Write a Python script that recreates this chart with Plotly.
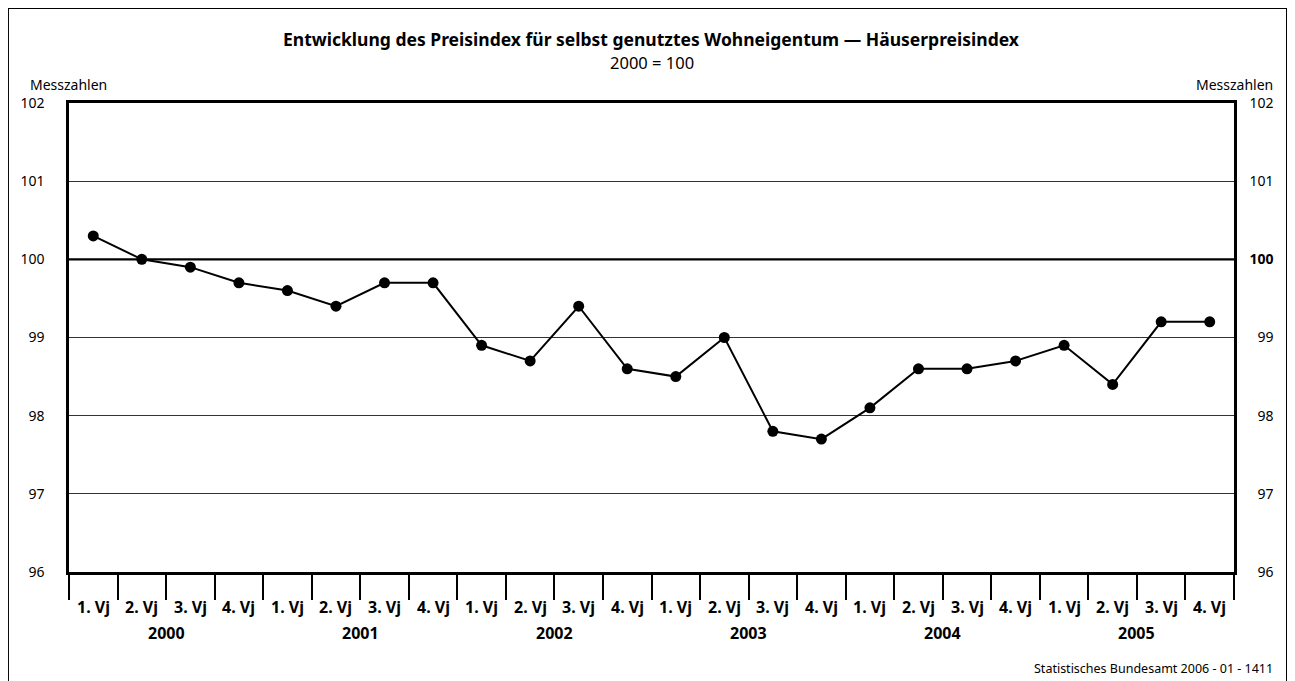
import plotly.graph_objects as go

# Daten: Häuserpreisindex, 2000 = 100
years = ["2000", "2001", "2002", "2003", "2004", "2005"]
quarters = ["1. Vj", "2. Vj", "3. Vj", "4. Vj"]
index_values = [100.3, 100.0, 99.9, 99.7,
                99.6, 99.4, 99.7, 99.7,
                98.9, 98.7, 99.4, 98.6,
                98.5, 99.0, 97.8, 97.7,
                98.1, 98.6, 98.6, 98.7,
                98.9, 98.4, 99.2, 99.2]
y_ticks = [96, 97, 98, 99, 100, 101, 102]

FONT = "Noto Sans"
x_pos = list(range(len(index_values)))
n = len(index_values)

fig = go.Figure()

fig.add_trace(go.Scatter(
    x=x_pos,
    y=index_values,
    mode="lines+markers",
    line=dict(color="black", width=2),
    marker=dict(size=11, color="black"),
    showlegend=False,
    hoverinfo="y",
))

# unsichtbare Spur für die rechte Achse
fig.add_trace(go.Scatter(x=[x_pos[0]], y=[index_values[0]], yaxis="y2",
                         mode="markers", marker=dict(opacity=0),
                         showlegend=False, hoverinfo="skip"))

year_bounds = [i * 4 - 0.5 for i in range(len(years) + 1)]
quarter_bounds = [i - 0.5 for i in range(n + 1)]

right_text = []
for v in y_ticks:
    if v == 100:
        right_text.append("<b>100</b>")
    elif v < 100:
        right_text.append("\u2007" + str(v))
    else:
        right_text.append(str(v))

# Seite hat 8px Rand im Browser -> Figur etwas kleiner
fig.update_layout(
    width=1287, height=673,
    margin=dict(l=61, r=61, t=95, b=109),
    paper_bgcolor="white",
    plot_bgcolor="white",
    font=dict(family=FONT, size=14, color="black"),
    xaxis=dict(
        range=[-0.5, n - 0.5],
        tickmode="array",
        tickvals=year_bounds,
        ticktext=[""] * len(year_bounds),
        ticks="outside",
        ticklen=48,
        tickwidth=1.5,
        tickcolor="black",
        minor=dict(tickmode="array", tickvals=quarter_bounds, ticks="outside",
                   ticklen=25, tickwidth=1.5, tickcolor="black", showgrid=False),
        showgrid=False,
        zeroline=False,
        showline=True,
        linecolor="black",
        linewidth=2.5,
        mirror=True,
        fixedrange=True,
    ),
    yaxis=dict(
        range=[96, 102],
        tickmode="array",
        tickvals=y_ticks,
        ticktext=[str(v) for v in y_ticks],
        ticks="",
        ticklabelstandoff=19,
        showgrid=True,
        gridcolor="#333333",
        gridwidth=1.4,
        zeroline=False,
        showline=True,
        linecolor="black",
        linewidth=2.5,
        fixedrange=True,
    ),
    yaxis2=dict(
        range=[96, 102],
        overlaying="y",
        side="right",
        tickmode="array",
        tickvals=y_ticks,
        ticktext=right_text,
        ticks="",
        ticklabelstandoff=10,
        showgrid=False,
        zeroline=False,
        showline=True,
        linecolor="black",
        linewidth=2.5,
        fixedrange=True,
    ),
)

# stärkere Linie bei 100
fig.add_shape(type="line", xref="paper", yref="y", x0=0, x1=1, y0=100, y1=100,
              line=dict(color="black", width=2.4))

# äußerer Rahmen
fig.add_shape(type="rect", xref="paper", yref="paper",
              x0=-0.0524, x1=1.0455, y0=-0.26, y1=1.2026,
              line=dict(color="black", width=2), layer="below")

# Beschriftung der Quartale und Jahre
for i in x_pos:
    fig.add_annotation(x=i, y=-0.0746, xref="x", yref="paper",
                       text="<b>" + quarters[i % 4] + "</b>", showarrow=False,
                       font=dict(size=16), yanchor="middle")
for k, yr in enumerate(years):
    fig.add_annotation(x=k * 4 + 1.5, y=-0.130, xref="x", yref="paper",
                       text="<b>" + yr + "</b>", showarrow=False,
                       font=dict(size=16), yanchor="middle")

fig.add_annotation(x=0.5, y=1.1365, xref="paper", yref="paper",
                   text="<b>Entwicklung des Preisindex für selbst genutztes Wohneigentum — Häuserpreisindex</b>",
                   showarrow=False, font=dict(size=17.5), yanchor="middle")
fig.add_annotation(x=0.5, y=1.0874, xref="paper", yref="paper",
                   text="2000 = 100", showarrow=False,
                   font=dict(size=16.5), yanchor="middle")
fig.add_annotation(x=-0.0352, y=1.0405, xref="paper", yref="paper",
                   text="Messzahlen", showarrow=False, xanchor="left",
                   font=dict(size=14), yanchor="middle")
fig.add_annotation(x=1.0351, y=1.0405, xref="paper", yref="paper",
                   text="Messzahlen", showarrow=False, xanchor="right",
                   font=dict(size=14), yanchor="middle")
fig.add_annotation(x=1.0351, y=-0.2047, xref="paper", yref="paper",
                   text="Statistisches Bundesamt 2006 - 01 - 1411", showarrow=False,
                   xanchor="right", font=dict(size=12.5), yanchor="middle")

fig.write_html("out.html")
